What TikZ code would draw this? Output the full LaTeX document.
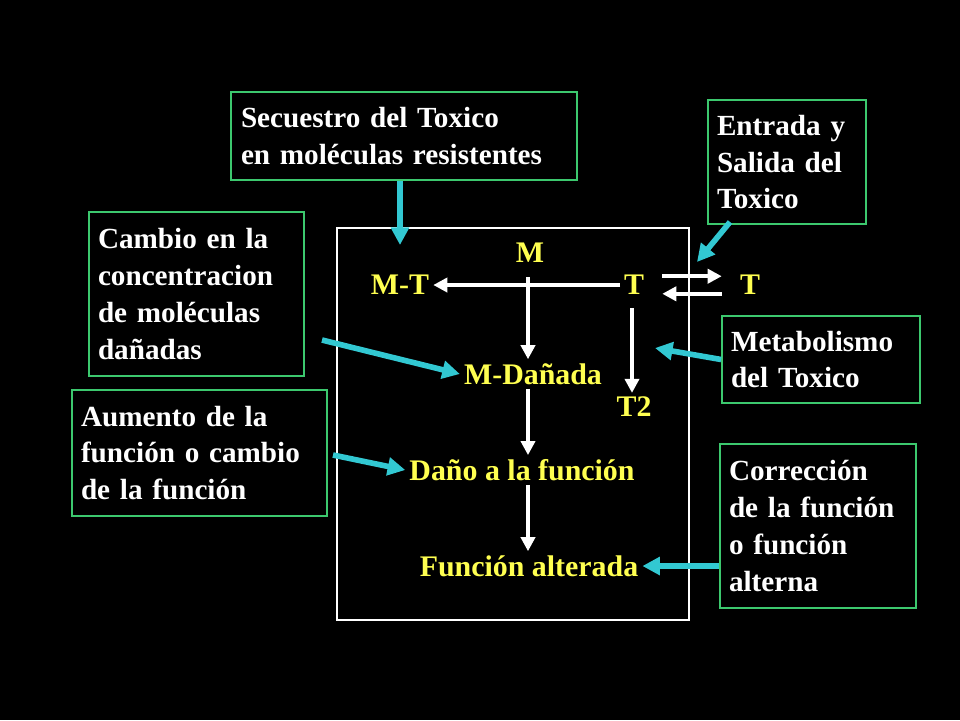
\documentclass[tikz,border=0pt]{standalone}
\usepackage{fontspec}
\setmainfont{Liberation Serif}
\usetikzlibrary{arrows.meta}
\definecolor{boxgreen}{RGB}{60,200,110}
\definecolor{lblyellow}{RGB}{255,255,80}
\definecolor{arrcyan}{RGB}{50,200,210}
\tikzset{
  box/.style={draw=boxgreen,line width=0.5pt,text=white,align=left,font=\fontsize{8.3}{10.5}\selectfont\bfseries,inner sep=0pt},
  lbl/.style={text=lblyellow,font=\fontsize{8.5}{10.5}\selectfont\bfseries,inner sep=1pt},
  warr/.style={draw=white,line width=1.1pt,-{Triangle[length=4pt,width=4pt]}},
  carr/.style={draw=arrcyan,line width=1.6pt,-{Triangle[length=5pt,width=5pt]}}
}
\begin{document}
\begin{tikzpicture}[x=0.01cm,y=-0.01cm]
        \fill[black] (0,0) rectangle (960,720);
        \useasboundingbox (0,0) rectangle (960,720);
        \draw[white,line width=0.5pt] (337,228) rectangle (689,620);
        % text boxes
        \node[box,minimum width=346*0.01cm,minimum height=88*0.01cm,text width=326*0.01cm] (secuestro) at (404,136) {Secuestro del Toxico\\en moléculas resistentes};
        \node[box,minimum width=158*0.01cm,minimum height=124*0.01cm,text width=140*0.01cm] (entrada) at (787,162) {Entrada y\\Salida del\\Toxico};
        \node[box,minimum width=215*0.01cm,minimum height=164*0.01cm,text width=197*0.01cm] (cambio) at (196.5,294) {Cambio en la\\concentracion\\de moléculas\\dañadas};
        \node[box,minimum width=198*0.01cm,minimum height=87*0.01cm,text width=180*0.01cm] (metab) at (821,359.5) {Metabolismo\\del Toxico};
        \node[box,minimum width=255*0.01cm,minimum height=126*0.01cm,text width=237*0.01cm] (aumento) at (199.5,453) {Aumento de la\\función o cambio\\de la función};
        \node[box,minimum width=196*0.01cm,minimum height=164*0.01cm,text width=178*0.01cm] (correc) at (818,526) {Corrección\\de la función\\o función\\alterna};
        % yellow labels
        \node[lbl] (m) at (530,253) {M};
        \node[lbl] (mt) at (400,285) {M-T};
        \node[lbl] (t) at (634,285) {T};
        \node[lbl] (tout) at (750,285) {T};
        \node[lbl] (mdan) at (533,374) {M-Dañada};
        \node[lbl] (t2) at (634,407) {T2};
        \node[lbl] (dano) at (522,470) {Daño a la función};
        \node[lbl] (func) at (529,566) {Función alterada};
        % white arrows
        \draw[warr] (620,285) -- (mt.east);
        \draw[warr] (528,277) -- (mdan.north -| 528,0);
        \draw[warr] ([yshift=2.5pt,xshift=4pt]t.east) -- ([yshift=2.5pt,xshift=-4pt]tout.west);
        \draw[warr] ([yshift=-2.5pt,xshift=-4pt]tout.west) -- ([yshift=-2.5pt,xshift=4pt]t.east);
        \draw[warr] (632,308) -- (t2.north -| 632,0);
        \draw[warr] (mdan.south -| 528,0) -- (dano.north -| 528,0);
        \draw[warr] (dano.south -| 528,0) -- (func.north -| 528,0);
        % cyan arrows
        \draw[carr] (secuestro.south -| 400,0) -- (400,245);
        \draw[carr] (730,222) -- (697,262);
        \draw[carr] (322,340) -- (mdan.west);
        \draw[carr] (metab.west) -- (655,348);
        \draw[carr] (333,455) -- (dano.west);
        \draw[carr] (correc.west |- 0,566) -- (func.east);
\end{tikzpicture}
\end{document}
